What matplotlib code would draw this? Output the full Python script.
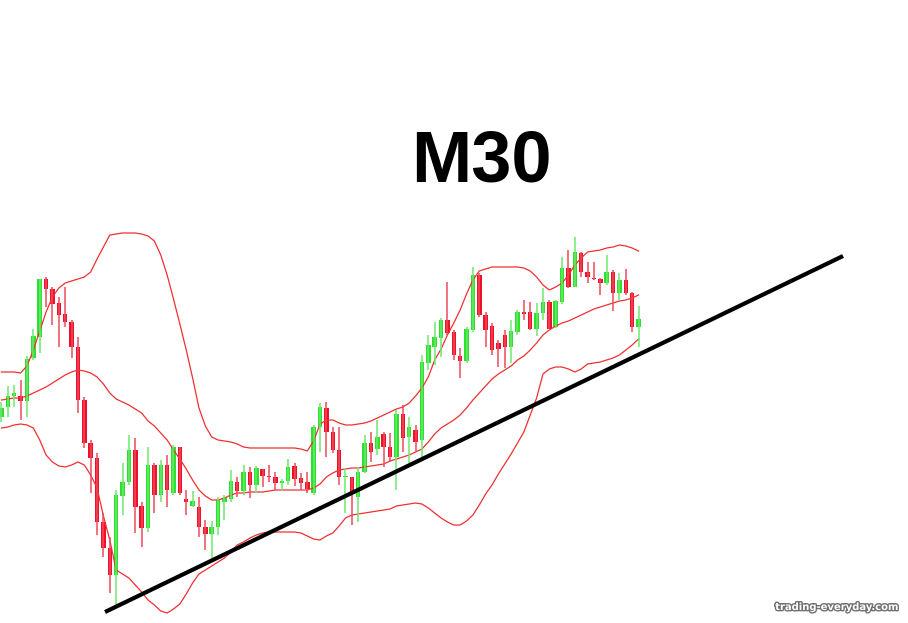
import numpy as np
from matplotlib import pyplot as plt
import matplotlib.patheffects as pe

# values (screen levels, y grows downwards)
body_top = [408, 396, 393, 396, 359, 336, 279, 279, 289, 303, 314, 322, 347, 400, 443, 458, 522, 548,
            495, 482, 450, 450, 506, 465, 465, 465, 465, 447, 447, 499, 501, 507, 527, 527, 500, 498,
            481, 482, 472, 472, 468, 469, 476, 477, 481, 467, 466, 478, 482, 427, 407, 408, 432, 450,
            476, 477, 472, 443, 443, 437, 434, 447, 414, 414, 427, 430, 362, 345, 337, 320, 320, 332,
            356, 329, 275, 275, 315, 326, 343, 335, 331, 312, 312, 312, 313, 302, 302, 301, 268, 268,
            252, 253, 272, 278, 279, 272, 272, 280, 280, 293, 319]
body_bot = [417, 407, 396, 401, 401, 358, 337, 289, 304, 315, 322, 347, 400, 443, 458, 522, 548, 575,
            575, 496, 482, 507, 528, 528, 495, 495, 490, 493, 493, 502, 506, 527, 534, 534, 527, 502,
            499, 491, 491, 485, 485, 476, 477, 483, 483, 481, 479, 483, 489, 493, 427, 432, 450, 477,
            477, 492, 497, 472, 452, 449, 447, 457, 457, 438, 437, 442, 440, 363, 347, 338, 333, 355,
            361, 361, 330, 315, 330, 350, 349, 347, 347, 332, 314, 329, 329, 313, 329, 327, 302, 287,
            287, 272, 277, 279, 283, 283, 293, 293, 293, 327, 327]
wick_top = [402, 386, 385, 380, 356, 329, 279, 277, 287, 297, 287, 320, 337, 397, 440, 453, 513, 537,
            490, 463, 435, 438, 502, 447, 463, 460, 455, 445, 447, 490, 491, 497, 520, 521, 497, 495,
            470, 477, 465, 467, 466, 469, 465, 472, 479, 459, 463, 473, 472, 425, 403, 402, 427, 427,
            468, 477, 467, 435, 432, 420, 432, 433, 410, 405, 417, 425, 355, 335, 322, 318, 282, 330,
            348, 327, 267, 273, 312, 323, 340, 330, 320, 310, 300, 302, 303, 288, 300, 300, 257, 250,
            237, 252, 262, 262, 278, 255, 270, 273, 269, 292, 306]
wick_bot = [422, 417, 407, 420, 417, 360, 353, 307, 325, 347, 327, 358, 413, 448, 493, 535, 557, 593,
            605, 515, 485, 533, 547, 532, 513, 502, 507, 495, 495, 515, 507, 537, 550, 558, 535, 520,
            502, 497, 495, 498, 493, 487, 482, 490, 491, 485, 486, 490, 493, 495, 452, 457, 453, 485,
            513, 525, 522, 473, 462, 455, 467, 462, 490, 452, 463, 452, 457, 370, 365, 357, 335, 360,
            378, 363, 332, 317, 347, 355, 367, 368, 363, 335, 320, 330, 336, 320, 329, 328, 304, 288,
            287, 277, 283, 280, 295, 285, 311, 300, 295, 332, 347]
bullish = [1, 1, 1, 0, 1, 1, 1, 0, 0, 0, 0, 0, 0, 0, 0, 0, 0, 0,
           1, 1, 1, 0, 0, 1, 0, 1, 0, 1, 0, 0, 1, 0, 0, 1, 1, 1,
           1, 0, 1, 0, 1, 0, 0, 0, 1, 1, 0, 0, 0, 1, 1, 0, 0, 0,
           1, 0, 1, 1, 0, 1, 0, 0, 1, 0, 1, 0, 1, 1, 1, 1, 0, 0,
           0, 1, 1, 0, 0, 0, 0, 0, 1, 1, 0, 0, 1, 1, 0, 1, 1, 0,
           1, 0, 0, 0, 0, 1, 0, 1, 0, 0, 1]

# bollinger bands
bb_upper = [372, 372, 372, 373, 366, 350, 331, 312, 297, 288, 283, 281, 279, 277, 272, 259, 247, 235,
            234, 233, 233, 233, 234, 236, 241, 255, 275, 299, 324, 350, 378, 408, 426, 437, 440, 441,
            442, 444, 447, 448, 448, 448, 448, 448, 448, 448, 448, 449, 451, 441, 424, 420, 420, 423,
            425, 425, 424, 423, 421, 418, 415, 412, 409, 407, 403, 396, 388, 377, 360, 349, 335, 323,
            310, 294, 280, 271, 269, 267, 267, 267, 267, 267, 268, 271, 277, 285, 290, 287, 283, 275,
            265, 258, 252, 251, 250, 248, 247, 245, 246, 248, 251]
bb_mid = [400, 399, 398, 398, 396, 393, 390, 387, 383, 379, 375, 372, 370, 371, 373, 377, 384, 393,
          399, 402, 405, 409, 413, 421, 426, 433, 440, 450, 459, 469, 480, 490, 496, 500, 500, 498,
          495, 493, 493, 492, 492, 492, 491, 490, 490, 490, 490, 490, 490, 488, 484, 477, 473, 470,
          469, 468, 468, 467, 466, 465, 464, 461, 459, 457, 455, 452, 449, 442, 434, 428, 424, 420,
          415, 408, 400, 393, 386, 379, 374, 370, 366, 360, 356, 350, 343, 335, 330, 326, 323, 321,
          318, 315, 312, 309, 307, 305, 303, 301, 300, 298, 295]
bb_lower = [428, 427, 425, 424, 425, 428, 440, 455, 462, 466, 467, 465, 462, 465, 475, 488, 516, 540,
            570, 574, 578, 585, 592, 600, 605, 611, 613, 609, 604, 594, 583, 574, 570, 566, 562, 558,
            552, 545, 542, 538, 535, 533, 532, 532, 532, 532, 532, 533, 536, 539, 540, 536, 533, 526,
            518, 515, 514, 513, 512, 511, 510, 509, 506, 505, 504, 503, 504, 508, 513, 518, 522, 525,
            525, 521, 515, 505, 494, 485, 474, 464, 454, 443, 432, 415, 398, 374, 369, 367, 367, 369,
            372, 369, 364, 363, 362, 360, 358, 355, 350, 345, 339]

# hand drawn trend line (bar index, level)
trend_x = [16.25, 132.1]
trend_y = [612, 256]

x = np.arange(len(body_top))
top = np.array(body_top)
bot = np.array(body_bot)
colors = ['#2ee02e' if b else '#f0102a' for b in bullish]
wick_colors = ['#6ee86e' if b else '#ee4a5e' for b in bullish]

fig = plt.figure(figsize=(9.08, 6.23), dpi=100)
ax = fig.add_axes([0, 0, 1, 1])
ax.set_xlim(-0.235, 142.3)
ax.set_ylim(623, 0)
ax.axis('off')

# bands
ax.plot(x, bb_upper, color='#f03030', lw=0.9)
ax.plot(x, bb_mid, color='#f03030', lw=0.9)
ax.plot(x, bb_lower, color='#f03030', lw=0.9)

# candles
ax.vlines(x, wick_top, wick_bot, colors=wick_colors, lw=1.1)
ax.bar(x, np.maximum(bot - top, 1.2), bottom=top, width=0.7, color=colors, linewidth=0)

ax.plot(trend_x, trend_y, color='black', lw=3.0, solid_capstyle='butt')

fig.text(481 / 908, 1 - 162 / 623, 'M30', fontsize=52, fontweight='bold', family='Liberation Sans',
         ha='center', va='center', color='black')

fig.text(837 / 908, 1 - 607 / 623, 'trading-everyday.com', fontsize=7.2, fontweight='bold',
         ha='center', va='center', color='white',
         path_effects=[pe.withStroke(linewidth=2, foreground='#707070')])

plt.savefig('out.png', dpi=100)
plt.close()
